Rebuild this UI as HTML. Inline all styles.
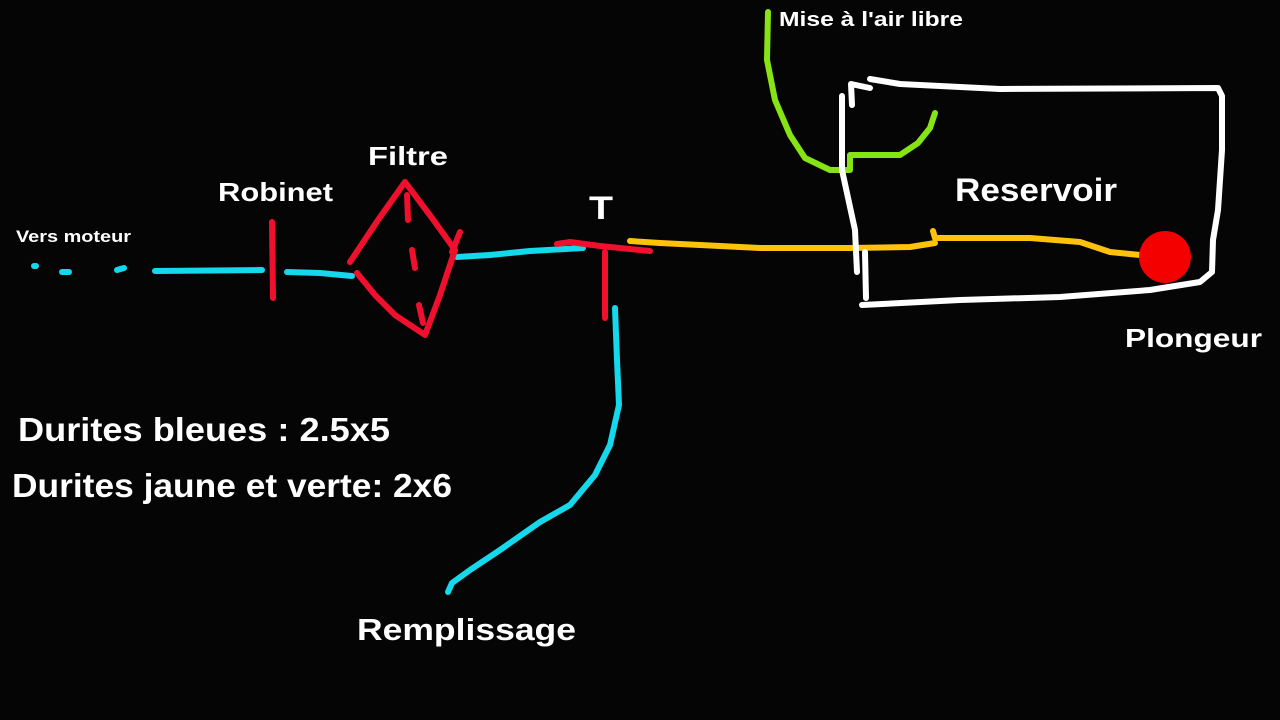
<!DOCTYPE html>
<html><head><meta charset="utf-8"><style>
html,body{margin:0;padding:0;background:#050505;}
svg{display:block}
text{font-family:"Liberation Sans",Arial,sans-serif;font-weight:bold;fill:#fff}
</style></head><body>
<svg width="1280" height="720" viewBox="0 0 1280 720" xmlns="http://www.w3.org/2000/svg">
<rect width="1280" height="720" fill="#050505"/>
<g fill="none" stroke-linecap="round" stroke-linejoin="round" stroke-width="6">
<g stroke="#14d8ec">
<path d="M34,266 L36,266"/>
<path d="M62,272 L69,272"/>
<path d="M117,270 L124,268"/>
<path d="M155,271 L262,270"/>
<path d="M287,272 L320,273 L352,276"/>
<path d="M457,257 L490,255 L530,251 L583,248"/>
<path d="M615,308 L617,360 L619,405 L610,445 L595,475 L570,505 L540,522 L500,550 L470,570 L452,583 L448,592"/>
</g>
<g stroke="#f0102e">
<path d="M272,222 L273,298"/>
<path d="M350,262 L378,220 L405,182 L432,218 L455,250 L440,295 L425,335 L395,315 L375,295 L357,273"/>
<path d="M460,232 L452,252"/>
<path d="M407,195 L408,220"/>
<path d="M412,250 L415,268"/>
<path d="M419,305 L423,323"/>
<path d="M557,244 L570,242 L600,246 L650,251"/>
<path d="M605,252 L605,318"/>
</g>
<g stroke="#ffc20a">
<path d="M630,241 L660,243 L760,248 L850,248 L910,247 L935,243"/>
<path d="M933,231 L935,238 L1030,238 L1080,242 L1110,252 L1140,255"/>
</g>
<path stroke="#86e414" d="M768,12 L767,60 L775,100 L790,135 L805,158 L830,170 L850,170 L850,155 L900,155 L918,143 L930,128 L935,113"/>
<g stroke="#fff">
<path d="M870,79 L900,84 L1000,89 L1218,88 L1222,96 L1222,150 L1218,210 L1213,240 L1212,272 L1200,282 L1150,290 L1060,297 L960,300 L862,305"/>
<path d="M852,105 L851,84 L870,88"/>
<path d="M842,96 L842,170 L855,230 L857,272"/>
<path d="M865,252 L866,298"/>
</g>
</g>
<circle cx="1165" cy="257" r="26" fill="#f50000"/>
<text x="16" y="242" font-size="17" textLength="115" lengthAdjust="spacingAndGlyphs">Vers moteur</text>
<text x="218" y="201" font-size="26" textLength="115" lengthAdjust="spacingAndGlyphs">Robinet</text>
<text x="368" y="165" font-size="26" textLength="80" lengthAdjust="spacingAndGlyphs">Filtre</text>
<text x="589" y="219" font-size="32" textLength="24" lengthAdjust="spacingAndGlyphs">T</text>
<text x="955" y="201" font-size="32" textLength="162" lengthAdjust="spacingAndGlyphs">Reservoir</text>
<text x="1125" y="347" font-size="26" textLength="137" lengthAdjust="spacingAndGlyphs">Plongeur</text>
<text x="779" y="26" font-size="20" textLength="184" lengthAdjust="spacingAndGlyphs">Mise à l'air libre</text>
<text x="18" y="441" font-size="33" textLength="372" lengthAdjust="spacingAndGlyphs">Durites bleues : 2.5x5</text>
<text x="12" y="497" font-size="33" textLength="440" lengthAdjust="spacingAndGlyphs">Durites jaune et verte: 2x6</text>
<text x="357" y="640" font-size="31" textLength="219" lengthAdjust="spacingAndGlyphs">Remplissage</text>
</svg>
</body></html>
